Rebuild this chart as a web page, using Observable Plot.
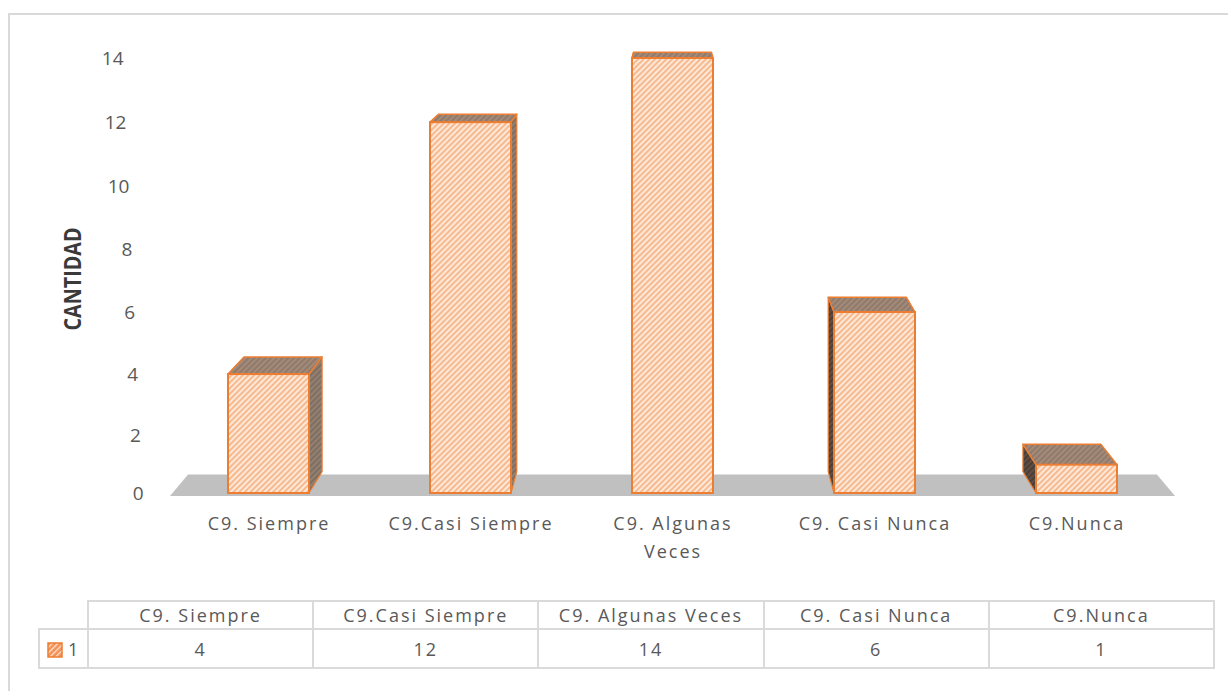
<!DOCTYPE html>
<html>
<head>
<meta charset="utf-8">
<script src="https://cdn.jsdelivr.net/npm/d3@7"></script>
<script src="https://cdn.jsdelivr.net/npm/@observablehq/plot@0.6"></script>
<style>
  html, body { margin: 0; padding: 0; background: #fff; }
  body { width: 1228px; height: 691px; overflow: hidden; position: relative; font-family: "Open Sans", sans-serif; }
  #frame { position: absolute; left: 8px; top: 13px; width: 1400px; height: 900px; border: 2px solid #d9d9d9; box-sizing: border-box; }
  #chart { position: absolute; left: 0; top: 0; }
  #chart g[aria-label="x-axis tick label"] { letter-spacing: 2px; }
  #tbl { position: absolute; left: 38px; top: 600px; border-collapse: collapse; table-layout: fixed;
         font-family: "Open Sans", sans-serif; font-size: 18px; color: #595959; letter-spacing: 2px; }
  #tbl td { border: 2px solid #dadada; text-align: center; vertical-align: middle; padding: 0; white-space: nowrap; }
  #tbl td.corner { border-top: none; border-left: none; }
  #tbl tr.head td { height: 26px; }
  #tbl tr.vals td { height: 37px; }
  #tbl td.key { text-align: left; padding-left: 7px; letter-spacing: 0; }
  #tbl td.key svg { vertical-align: -2px; margin-right: 5px; }
</style>
</head>
<body>
<svg width="0" height="0" style="position:absolute">
  <defs>
    <pattern id="hatch" patternUnits="userSpaceOnUse" width="4" height="4" patternTransform="rotate(45)">
      <rect width="4" height="4" fill="#fde8d9"/>
      <rect width="2" height="4" fill="#f7b98e"/>
    </pattern>
    <pattern id="hatchTop" patternUnits="userSpaceOnUse" width="4" height="4" patternTransform="rotate(45)">
      <rect width="4" height="4" fill="#a48a78"/>
      <rect width="2" height="4" fill="#8f7a6c"/>
    </pattern>
    <pattern id="hatchSideR" patternUnits="userSpaceOnUse" width="4" height="4" patternTransform="rotate(45)">
      <rect width="4" height="4" fill="#938070"/>
      <rect width="2" height="4" fill="#7f6e62"/>
    </pattern>
    <pattern id="hatchSideL" patternUnits="userSpaceOnUse" width="4" height="4" patternTransform="rotate(45)">
      <rect width="4" height="4" fill="#5e4e44"/>
      <rect width="2" height="4" fill="#4a3e37"/>
    </pattern>
    <pattern id="hatchKey" patternUnits="userSpaceOnUse" width="4" height="4" patternTransform="rotate(45)">
      <rect width="4" height="4" fill="#f29057"/>
      <rect width="1.3" height="4" fill="#fde3d2"/>
    </pattern>
  </defs>
</svg>
<div id="frame"></div>
<div id="chart"></div>
<table id="tbl"></table>
<script>
// ---- data ----
const categories = ["C9. Siempre", "C9.Casi Siempre", "C9. Algunas Veces", "C9. Casi Nunca", "C9.Nunca"];
const xTickLabels = ["C9. Siempre", "C9.Casi Siempre", "C9. Algunas\nVeces", "C9. Casi Nunca", "C9.Nunca"];
const values = [4, 12, 14, 6, 1];
const seriesName = "1";
const yTicks = [0, 2, 4, 6, 8, 10, 12, 14];
const yLabel = "CANTIDAD";

const data = categories.map((c, i) => ({category: c, value: values[i]}));

const ORANGE = "#ED7D31";

// 3D depth faces (floor, tops, sides) computed from Plot's scales
function depthFaces(index, scales, vals, dims) {
  const x = scales.x, y = scales.y;
  const bw = x.bandwidth();
  const left = dims.marginLeft, right = dims.width - dims.marginRight;
  const vx = (left + right) / 2, vy = -100, k = 0.036;
  const back = ([px, py]) => [px + k * (vx - px), py + k * (vy - py)];
  const poly = pts => "M" + pts.map(p => p.join(",")).join("L") + "Z";
  const g = d3.create("svg:g");
  const y0 = y(0);
  const fy = y0 + 3;
  g.append("path")
    .attr("d", poly([[left, fy], [right, fy], back([right, fy]), back([left, fy])]))
    .attr("fill", "#c0c0c0");
  data.forEach(d => {
    const x1 = x(d.category), x2 = x1 + bw, yt = y(d.value);
    const rightSide = (x1 + x2) / 2 < vx;
    const sx = rightSide ? x2 : x1;
    const side = [[sx, y0], [sx, yt], back([sx, yt]), back([sx, y0])];
    g.append("path").attr("d", poly(side))
      .attr("fill", rightSide ? "url(#hatchSideR)" : "url(#hatchSideL)")
      .attr("stroke", ORANGE).attr("stroke-width", 1.2).attr("stroke-linejoin", "round");
    const top = [[x1, yt], [x2, yt], back([x2, yt]), back([x1, yt])];
    g.append("path").attr("d", poly(top))
      .attr("fill", "url(#hatchTop)")
      .attr("stroke", ORANGE).attr("stroke-width", 1.5).attr("stroke-linejoin", "round");
  });
  return g.node();
}

const chart = Plot.plot({
  width: 1228,
  height: 590,
  marginLeft: 170,
  marginRight: 53,
  marginTop: 58,
  marginBottom: 97,
  style: {fontFamily: "'Open Sans', sans-serif", color: "#595959", background: "transparent", overflow: "visible"},
  x: {type: "band", domain: categories, paddingInner: 0.6, paddingOuter: 0.285, label: null},
  y: {type: "pow", exponent: 1.035, domain: [0, 14], label: null},
  marks: [
    depthFaces,
    Plot.barY(data, {x: "category", y: "value", fill: "url(#hatch)", stroke: ORANGE, strokeWidth: 2}),
    Plot.axisY({ticks: yTicks, tickSize: 0, tickPadding: 27, fontSize: 19, label: null}),
    Plot.axisX({tickSize: 0, tickPadding: 17, fontSize: 18, lineHeight: 1.55, label: null,
      tickFormat: d => xTickLabels[categories.indexOf(d)]}),
    Plot.text([yLabel], {frameAnchor: "left", rotate: -90, textAnchor: "start", dx: -97, dy: 54.5,
      fontSize: 23, fontWeight: "bold", fill: "#3a3a3a"})
  ]
});
document.getElementById("chart").appendChild(chart);

// perspective slant of the y tick labels
const ys = chart.scale("y");
const yb = ys.apply(0), ytop = ys.apply(14);
d3.select(chart).selectAll('g[aria-label="y-axis tick label"] text').each(function () {
  const t = this.getAttribute("transform");
  const m = t && /translate\(\s*([-\d.e]+)[ ,]+([-\d.e]+)\s*\)/.exec(t);
  if (m) {
    const px = +m[1], py = +m[2];
    this.setAttribute("transform", `translate(${px - 20 * (yb - py) / (yb - ytop)},${py})`);
  } else {
    const px = +this.getAttribute("x") || 0, py = +this.getAttribute("y") || 0;
    this.setAttribute("x", px - 20 * (yb - py) / (yb - ytop));
  }
});
// condensed bold axis title
d3.select(chart).selectAll("text").filter(function () { return this.textContent === yLabel; })
  .attr("textLength", 103).attr("lengthAdjust", "spacingAndGlyphs");

// data table
const tbl = d3.select("#tbl");
const cg = tbl.append("colgroup");
cg.append("col").style("width", "49px");
categories.forEach(() => cg.append("col").style("width", "225.2px"));
const hr = tbl.append("tr").attr("class", "head");
hr.append("td").attr("class", "corner");
categories.forEach(c => hr.append("td").text(c));
const vr = tbl.append("tr").attr("class", "vals");
const kc = vr.append("td").attr("class", "key");
kc.html(`<svg width="16" height="16"><rect x="1" y="1" width="14" height="14" fill="url(#hatchKey)" stroke="${ORANGE}" stroke-width="1.5"/></svg>${seriesName}`);
values.forEach(v => vr.append("td").text(v));
</script>
</body>
</html>
